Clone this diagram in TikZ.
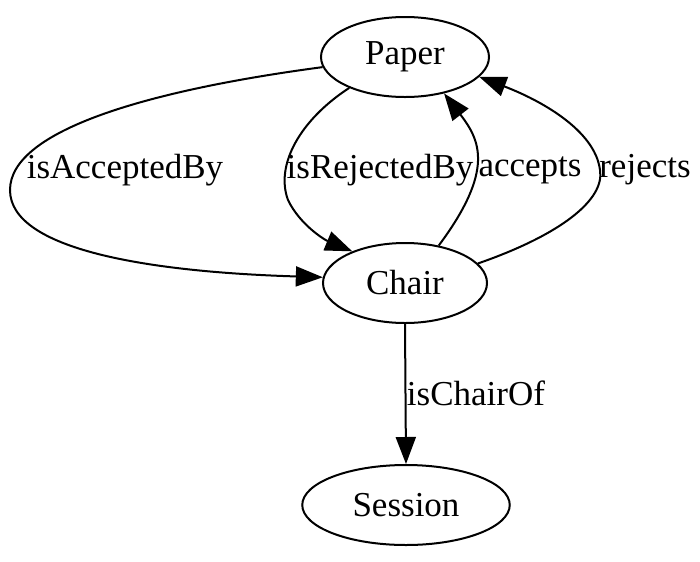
\documentclass[tikz,border=0pt]{standalone}
\usepackage{fontspec}
\setmainfont{Liberation Serif}
\usetikzlibrary{shapes.geometric,arrows.meta}
\begin{document}
\begin{tikzpicture}[x=0.4pt,y=-0.4pt,
  ent/.style={draw,ellipse,line width=0.8pt,inner sep=0pt,minimum height=32pt,font=\fontsize{14pt}{16pt}\selectfont},
  rel/.style={draw,line width=0.8pt,-{Triangle[length=10.8pt,width=8pt]}},
  lbl/.style={font=\fontsize{14pt}{16pt}\selectfont,inner sep=0pt}]
\useasboundingbox (0,0) rectangle (700,561);
\node[ent,minimum width=67.2pt] (P) at (405,57) {Paper};
\node[ent,minimum width=65.6pt] (C) at (405,283) {Chair};
\node[ent,minimum width=83pt] (S) at (406,505) {Session};
\draw[rel] (P.187) .. controls (150,90) and (10,130) .. (10,190) .. controls (10,250) and (150,272) .. (C.176);
\draw[rel] (P.209) .. controls (300,120) and (275,165) .. (288,200) .. controls (300,225) and (325,240) .. (C.149);
\draw[rel] (C.48) .. controls (495,170) and (480,140) .. (P.317);
\draw[rel] (C.15) .. controls (560,235) and (605,200) .. (600,170) .. controls (595,130) and (540,100) .. (P.345);
\draw[rel] (C.south) -- (S.north);
\node[lbl] (l1) at (125,170) {isAcceptedBy};
\node[lbl] (l2) at (380,170) {isRejectedBy};
\node[lbl] (l3) at (530,170) {accepts};
\node[lbl] (l4) at (645,170) {rejects};
\node[lbl] (l5) at (476,393) {isChairOf};
\end{tikzpicture}
\end{document}
